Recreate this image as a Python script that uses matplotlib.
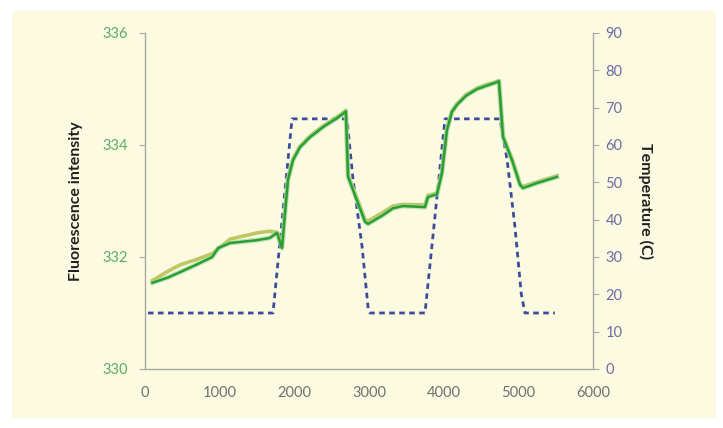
import matplotlib
matplotlib.use("Agg")
import matplotlib.pyplot as plt
from matplotlib.patches import Rectangle

plt.rcParams['font.family'] = ['Lato', 'DejaVu Sans']

# Fluorescence series 1 (dark green)
time_f1 = [100, 300, 470, 700, 900, 980, 1140, 1500, 1670, 1768, 1835, 1875, 1915, 1982,
           2076, 2210, 2384, 2571, 2665, 2690, 2720, 2946, 2987, 3190, 3320, 3455, 3750,
           3790, 3910, 3977, 4044, 4111, 4180, 4300, 4450, 4600, 4687, 4740, 4795, 4915,
           5022, 5060, 5250, 5517]
fluor1 = [331.54, 331.63, 331.73, 331.87, 332.0, 332.16, 332.25, 332.30, 332.34, 332.43,
          332.16, 332.79, 333.38, 333.73, 333.96, 334.14, 334.32, 334.48, 334.57, 334.6,
          333.43, 332.63, 332.59, 332.75, 332.87, 332.91, 332.89, 333.07, 333.12, 333.5,
          334.27, 334.59, 334.72, 334.88, 335.0, 335.07, 335.11, 335.14, 334.14, 333.73,
          333.29, 333.23, 333.32, 333.43]

# Fluorescence series 2 (light yellow-green)
time_f2 = [100, 300, 470, 700, 900, 1140, 1500, 1670, 1768, 1835, 1875, 1915, 1982, 2076,
           2210, 2384, 2571, 2665, 2690, 2720, 2946, 2987, 3190, 3320, 3455, 3750, 3790,
           3910, 3977, 4044, 4111, 4180, 4300, 4450, 4600, 4687, 4740, 4795, 4915, 5022,
           5060, 5250, 5517]
fluor2 = [331.58, 331.74, 331.86, 331.96, 332.06, 332.32, 332.43, 332.46, 332.44, 332.2,
          332.82, 333.4, 333.75, 333.98, 334.16, 334.34, 334.5, 334.59, 334.62, 333.46,
          332.67, 332.64, 332.8, 332.91, 332.94, 332.93, 333.1, 333.14, 333.52, 334.29,
          334.61, 334.74, 334.9, 335.02, 335.09, 335.12, 335.15, 334.16, 333.75, 333.31,
          333.26, 333.34, 333.45]

# Temperature (dashed)
time_t = [40, 1714, 1969, 2705, 2785, 2906, 2990, 3013, 3750, 4018, 4754, 4850, 4955,
          5040, 5089, 5490]
temp = [15, 15, 67, 67, 51, 33, 16, 15, 15, 67, 67, 56, 38, 20, 15, 15]

left_ticks = [330, 332, 334, 336]
right_ticks = [0, 10, 20, 30, 40, 50, 60, 70, 80, 90]
x_ticks = [0, 1000, 2000, 3000, 4000, 5000, 6000]

fig = plt.figure(figsize=(7.23, 4.28), dpi=100)
fig.patch.set_facecolor('white')
fig.patches.append(Rectangle((12 / 723, 1 - 418 / 428), (716 - 12) / 723, (418 - 11) / 428,
                             transform=fig.transFigure, facecolor='#fdfae2',
                             edgecolor='none', zorder=-10))

ax = fig.add_axes([145 / 723, 1 - 369 / 428, (593 - 145) / 723, (369 - 33) / 428])
ax.patch.set_alpha(0)
ax2 = ax.twinx()
ax2.patch.set_alpha(0)

ax2.plot(time_t, temp, color='#3c4c9c', lw=2.0, ls=(0, (2.0, 1.6)), zorder=1)
ax.plot(time_f2, fluor2, color='#c0c662', lw=2.6, zorder=3)
ax.plot(time_f1, fluor1, color='#9fd89a', lw=3.6, alpha=0.6, zorder=4)
ax.plot(time_f1, fluor1, color='#2a9e35', lw=1.8, zorder=5)
ax.set_zorder(ax2.get_zorder() + 1)

ax.set_xlim(0, 6000)
ax.set_ylim(330, 336)
ax2.set_ylim(0, 90)
ax.set_xticks(x_ticks)
ax.set_yticks(left_ticks)
ax2.set_yticks(right_ticks)

spine_col = '#a8a8a0'
for a in (ax, ax2):
    for s in a.spines.values():
        s.set_color(spine_col)
        s.set_linewidth(1.0)
    a.spines['top'].set_visible(False)
ax.spines['right'].set_visible(False)
ax2.spines['left'].set_visible(False)
ax2.spines['bottom'].set_visible(False)

ax.tick_params(axis='x', length=0, pad=12, labelsize=10.5, labelcolor='#707070')
ax.tick_params(axis='y', length=4, color=spine_col, pad=8, labelsize=10.5, labelcolor='#5aae66')
ax2.tick_params(axis='y', length=4, color=spine_col, pad=5, labelsize=10.5, labelcolor='#6a6ca6')

ax.set_ylabel('Fluorescence intensity', fontsize=11.5, fontweight='bold', color='#202020', labelpad=14)
ax2.set_ylabel('Temperature (C)', fontsize=11.5, fontweight='bold', color='#202020',
               rotation=-90, labelpad=22)

fig.savefig('out.png', dpi=100, facecolor='white')
